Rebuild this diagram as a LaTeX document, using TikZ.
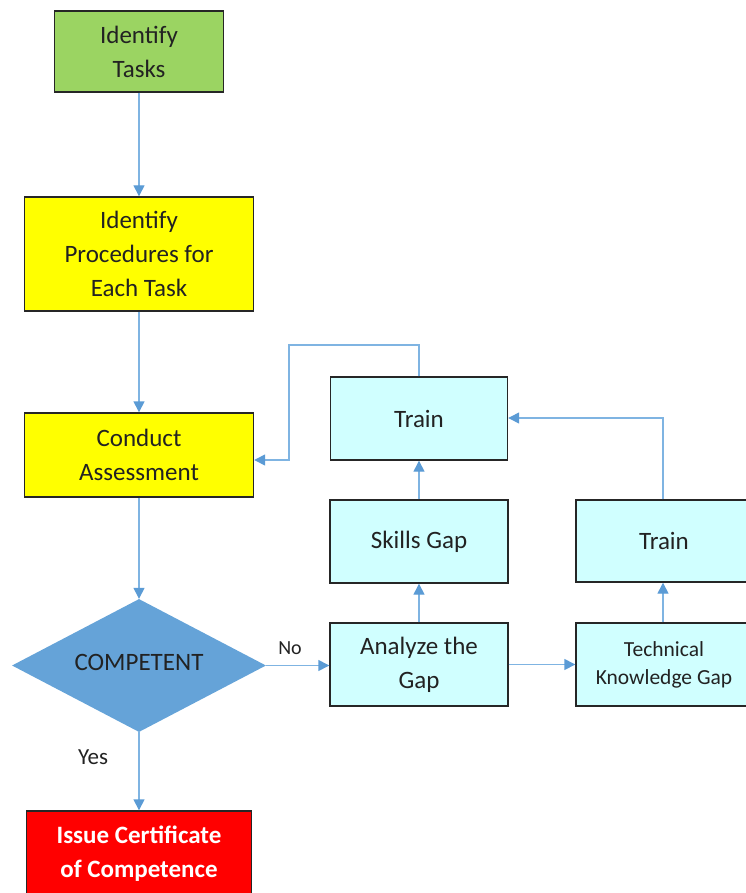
\documentclass[tikz,border=0pt]{standalone}
\usepackage{fontspec}
\setmainfont{Carlito}
\usetikzlibrary{arrows.meta,shapes.geometric}
\definecolor{boxgreen}{HTML}{9BD462}
\definecolor{boxyellow}{HTML}{FFFF00}
\definecolor{boxcyan}{HTML}{D0FFFF}
\definecolor{diablue}{HTML}{65A3D8}
\definecolor{boxred}{HTML}{FF0000}
\definecolor{linkblue}{HTML}{7FB4E2}
\definecolor{tipblue}{HTML}{5B9BD5}
\definecolor{txt}{HTML}{222222}
\tikzset{
  x=1pt,y=-1pt,
  stepbox/.style={draw=black!85,line width=1.4pt,rectangle,align=center,text=txt,
    font=\fontsize{25}{34}\selectfont,inner sep=0pt},
  link/.style={draw=linkblue,line width=1.4pt,-{Triangle[length=11pt,width=11pt,fill=tipblue,color=tipblue]}},
  lbl/.style={text=txt,inner sep=0pt}
}
\begin{document}
\begin{tikzpicture}
\useasboundingbox (0,0) rectangle (745,893);
\node[stepbox,fill=boxgreen,minimum width=169pt,minimum height=81pt] (tasks) at (139,51.5) {Identify\\Tasks};
\node[stepbox,fill=boxyellow,minimum width=229pt,minimum height=114pt] (proc) at (139,254) {Identify\\Procedures for\\Each Task};
\node[stepbox,fill=boxyellow,minimum width=229pt,minimum height=84pt] (assess) at (139,455) {Conduct\\Assessment};
\node[diamond,fill=diablue,minimum width=254pt,minimum height=133pt,inner sep=0pt,aspect=1.9] (comp) at (139,665.5) {};
\node[lbl,font=\fontsize{25}{34}\selectfont] at (139,662) {COMPETENT};
\node[stepbox,fill=boxred,text=white,font=\bfseries\fontsize{25}{34}\selectfont,minimum width=225pt,minimum height=86pt] (cert) at (139,854) {Issue Certificate\\of Competence};
\node[stepbox,fill=boxcyan,minimum width=177pt,minimum height=83pt] (train1) at (419,418.5) {Train};
\node[stepbox,fill=boxcyan,minimum width=178pt,minimum height=83pt] (skills) at (419,541.5) {Skills Gap};
\node[stepbox,fill=boxcyan,minimum width=178pt,minimum height=83pt] (analyze) at (419,664.5) {Analyze the\\Gap};
\node[stepbox,fill=boxcyan,minimum width=176pt,minimum height=82pt] (train2) at (664,541) {Train};
\node[stepbox,fill=boxcyan,minimum width=176pt,minimum height=83pt,font=\fontsize{21.5}{28}\selectfont] (tkg) at (664,664.5) {Technical\\Knowledge Gap};
\coordinate (c1) at (419,345);
\coordinate (c2) at (289,345);
\coordinate (c3) at (289,460);
\coordinate (c4) at (663,418);
\draw[link] (tasks.south) -- (proc.north);
\draw[link] (proc.south) -- (assess.north);
\draw[link] (assess.south) -- (comp.north);
\draw[link] (comp.south) -- (cert.north);
\draw[link] (comp.east) -- (analyze.west |- comp.east);
\draw[link] (analyze.north) -- (skills.south);
\draw[link] (skills.north) -- (train1.south);
\draw[link] (analyze.east) -- (tkg.west |- analyze.east);
\draw[link] (tkg.north -| c4) -- (train2.south -| c4);
\draw[link] (train2.north -| c4) -- (c4) -- (train1.east |- c4);
\draw[link] (train1.north -| c1) -- (c1) -- (c2) -- (c3) -- (assess.east |- c3);
\node[lbl,font=\fontsize{20}{24}\selectfont] at (290,648) {No};
\node[lbl,font=\fontsize{23}{28}\selectfont] at (93,757) {Yes};
\end{tikzpicture}
\end{document}
